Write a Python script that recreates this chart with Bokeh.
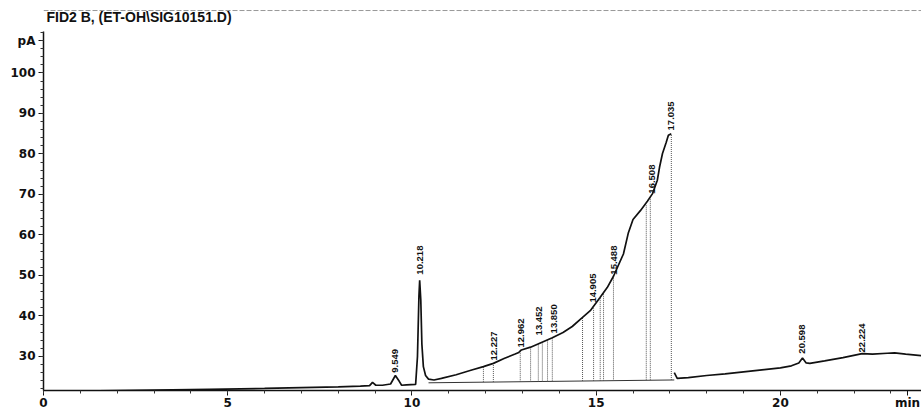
import math
from bokeh.plotting import figure
from bokeh.models import ColumnDataSource, FixedTicker, Label, Span, Range1d
from bokeh.core.properties import value
from bokeh.embed import file_html
from bokeh.resources import INLINE

title_text = "FID2 B,  (ET-OH\\SIG10151.D)"
y_unit = "pA"
x_unit = "min"

nan = float("nan")
trace_time = [0.0, 1.5, 3.0, 4.5, 6.0, 7.0, 8.0, 8.6, 8.85, 8.93, 9.02, 9.2, 9.42, 9.55, 9.66,
              9.72, 9.85, 10.1, 10.15, 10.19, 10.21, 10.24, 10.27, 10.31, 10.37, 10.45, 10.6,
              10.8, 11.2, 11.6, 11.94, 12.21, 12.5, 12.8, 12.9, 12.97, 13.22, 13.5, 13.81, 14.1,
              14.35, 14.6, 14.84, 15.1, 15.3, 15.47, 15.74, 15.87, 16.0, 16.2, 16.39, 16.53,
              16.66, 16.72, 16.8, 16.9, 16.96, 17.04, nan,
              17.12, 17.2, 17.5, 18.0, 18.5, 19.0, 19.5, 20.0, 20.3, 20.5, 20.6, 20.7, 20.8,
              21.2, 21.7, 22.22, 22.5, 22.9, 23.1, 23.4, 23.83]
trace_pa = [21.4, 21.5, 21.7, 21.9, 22.1, 22.3, 22.5, 22.7, 22.8, 23.6, 22.9, 22.9, 23.2, 25.3, 23.8,
            22.9, 23.0, 23.1, 30.0, 45.0, 48.8, 44.0, 33.0, 27.5, 25.3, 24.4, 24.2,
            24.6, 25.5, 26.6, 27.5, 28.3, 29.5, 30.6, 31.0, 31.6, 32.3, 33.4, 34.6, 35.9,
            37.4, 39.4, 41.3, 44.5, 47.0, 49.8, 55.3, 60.4, 63.8, 66.0, 68.3, 70.2,
            73.5, 76.7, 80.1, 82.8, 84.6, 85.0, nan,
            26.0, 24.6, 24.8, 25.3, 25.7, 26.2, 26.7, 27.2, 27.7, 28.4, 29.6, 28.4, 28.3,
            28.9, 29.7, 30.7, 30.6, 30.8, 30.9, 30.6, 30.2]

peak_rt = [9.549, 10.218, 12.227, 12.962, 13.452, 13.850, 14.905, 15.488, 16.508, 17.035, 20.598, 22.224]
peak_labels = ["9.549", "10.218", "12.227", "12.962", "13.452", "13.850", "14.905", "15.488",
               "16.508", "17.035", "20.598", "22.224"]
peak_label_pa = [26.0, 50.2, 29.0, 32.2, 35.2, 35.7, 43.3, 50.2, 70.2, 85.8, 30.7, 31.0]

drop_rt = [11.94, 12.21, 12.94, 13.22, 13.43, 13.54, 13.68, 13.81, 14.63, 14.93, 15.11, 15.20,
           15.47, 16.36, 16.47, 17.04]
drop_top = [27.5, 28.3, 31.5, 32.3, 33.1, 33.5, 34.0, 34.6, 39.6, 41.9, 44.5, 45.7,
            49.4, 67.5, 69.2, 84.8]
baseline_rt = [10.45, 17.12]
baseline_pa = [23.5, 24.2]

x_major = [0, 5, 10, 15, 20]
x_minor = list(range(0, 24))
y_major = [30, 40, 50, 60, 70, 80, 90, 100]
y_minor = list(range(22, 111, 2))
x_unit_pos = 23.45
y_unit_pos = 108.0

p = figure(width=921, height=412, x_range=Range1d(0, 23.83), y_range=Range1d(21.6, 115.9),
           min_border_left=43, min_border_right=0, min_border_top=8, min_border_bottom=22,
           output_backend="svg", toolbar_location=None, tools="")
p.xgrid.visible = False
p.ygrid.visible = False
p.outline_line_color = None
p.background_fill_color = "white"
p.border_fill_color = "white"

# integration baseline and drop lines
def base_at(t):
    return baseline_pa[0] + (baseline_pa[1] - baseline_pa[0]) * (t - baseline_rt[0]) / (baseline_rt[1] - baseline_rt[0])

p.line(baseline_rt, baseline_pa, line_color="#333333", line_width=1)
p.segment(x0=drop_rt, y0=[base_at(t) for t in drop_rt], x1=drop_rt, y1=drop_top,
          line_color="#555555", line_width=1, line_dash="1 1")

p.line(trace_time, trace_pa, line_color="#111111", line_width=1.7)

src = ColumnDataSource(dict(x=peak_rt, y=peak_label_pa, t=peak_labels))
p.text(x="x", y="y", text="t", source=src, angle=math.pi / 2, text_align="left",
       text_baseline="middle", text_font=value("Liberation Sans"),
       text_font_style="bold", text_font_size="9.5px", text_color="#111111")

p.add_layout(Span(location=115.4, dimension="width", line_color="#999999", line_dash="5 2", line_width=1))

for ax, maj, mnr in ((p.xaxis, x_major + [x_unit_pos], x_minor), (p.yaxis, y_major + [y_unit_pos], y_minor)):
    ax.ticker = FixedTicker(ticks=maj, minor_ticks=mnr)
    ax.axis_line_color = "#111111"
    ax.axis_line_width = 1.5
    ax.major_tick_line_color = "#111111"
    ax.minor_tick_line_color = "#333333"
    ax.major_tick_in = 0
    ax.major_tick_out = 5
    ax.minor_tick_in = 0
    ax.minor_tick_out = 3
    ax.major_label_text_font = "DejaVu Sans"
    ax.major_label_text_font_style = "bold"
    ax.major_label_text_font_size = "12px"
    ax.major_label_text_color = "#111111"
    ax.major_label_standoff = 3
p.xaxis.major_label_overrides = {x_unit_pos: x_unit}
p.yaxis.major_label_overrides = {y_unit_pos: y_unit}
p.yaxis.bounds = (21.6, 110.2)
p.xaxis.major_label_standoff = 0

p.add_layout(Label(x=0.08, y=113.7, text=title_text, text_font="Liberation Sans",
                   text_font_style="bold", text_font_size="14px", text_baseline="middle",
                   text_color="#111111"))

open("out.html", "w").write(file_html(p, INLINE))
